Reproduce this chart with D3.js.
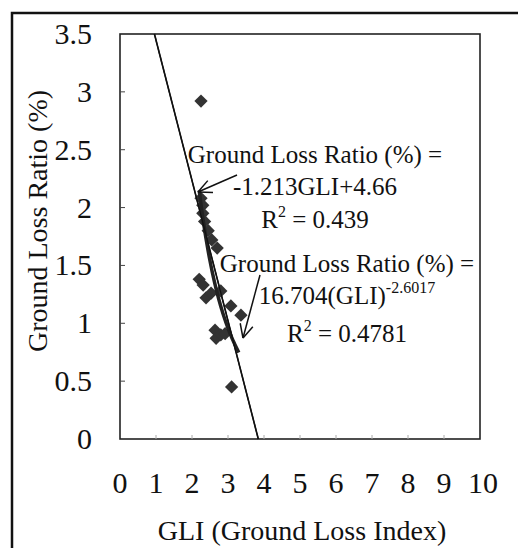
<!DOCTYPE html>
<html><head><meta charset="utf-8">
<script src="https://cdn.jsdelivr.net/npm/d3@7"></script>
<style>body{margin:0;background:#fff}svg{display:block}text{font-family:"Liberation Serif","Times New Roman",serif;fill:#111}</style>
</head><body><svg id="c" width="518" height="548"></svg>
<script>
const gli = [2.25, 2.25, 2.3, 2.3, 2.35, 2.45, 2.55, 2.7, 2.2, 2.31, 2.39, 2.53, 2.8, 3.08, 3.36, 2.64, 2.67, 2.8, 2.92, 3.1];
const ratio = [2.92, 2.08, 2.02, 1.95, 1.88, 1.8, 1.72, 1.65, 1.38, 1.33, 1.22, 1.26, 1.28, 1.15, 1.07, 0.94, 0.87, 0.9, 0.91, 0.45];
const xTicks = [0,1,2,3,4,5,6,7,8,9,10];
const yTicks = [0,0.5,1,1.5,2,2.5,3,3.5];
const linA = -1.213, linB = 4.66;
const powA = 16.704, powB = -2.6017;
const powRange = [2.2, 3.3];

const svg = d3.select("#c");
const x = d3.scaleLinear().domain([0,10]).range([120,480]);
const y = d3.scaleLinear().domain([0,3.5]).range([439,34]);

// outer frame
svg.append("rect").attr("x",12).attr("y",13).attr("width",540).attr("height",560)
  .attr("fill","none").attr("stroke","#111").attr("stroke-width",2.5);

// plot frame
svg.append("rect").attr("x",x(0)).attr("y",y(3.5)).attr("width",x(10)-x(0)).attr("height",y(0)-y(3.5))
  .attr("fill","none").attr("stroke","#222").attr("stroke-width",1.6);

// y ticks (inside)
svg.append("g").selectAll("line").data(yTicks.slice(1,-1)).join("line")
  .attr("x1",x(0)).attr("x2",x(0)+5).attr("y1",d=>y(d)).attr("y2",d=>y(d))
  .attr("stroke","#444").attr("stroke-width",1);
svg.append("g").selectAll("line").data(xTicks.slice(1,-1)).join("line")
  .attr("x1",d=>x(d)).attr("x2",d=>x(d)).attr("y1",y(0)).attr("y2",y(0)-4)
  .attr("stroke","#aaa").attr("stroke-width",1);

// tick labels
svg.append("g").selectAll("text").data(yTicks).join("text")
  .attr("x",92).attr("y",d=>y(d)+10).attr("text-anchor","end")
  .attr("font-size",30).text(d=>d);
svg.append("g").selectAll("text").data(xTicks).join("text")
  .attr("x",d=>x(d)+(d===10?3:0)).attr("y",493).attr("text-anchor","middle")
  .attr("font-size",30).text(d=>d);

// axis titles
svg.append("text").attr("x",302).attr("y",540).attr("text-anchor","middle")
  .attr("font-size",28).text("GLI (Ground Loss Index)");
svg.append("text").attr("transform","translate(47,221) rotate(-90)").attr("text-anchor","middle")
  .attr("font-size",28).text("Ground Loss Ratio (%)");

// linear fit line
const lx0 = (3.5 - linB)/linA, lx1 = (0 - linB)/linA;
svg.append("line").attr("x1",x(lx0)).attr("y1",y(3.5)).attr("x2",x(lx1)).attr("y2",y(0))
  .attr("stroke","#111").attr("stroke-width",1.6);

// points
const sym = d3.symbol().type(d3.symbolSquare).size(88);
svg.append("g").selectAll("path").data(gli.map((g,i)=>[g,ratio[i]])).join("path")
  .attr("d",sym).attr("transform",d=>`translate(${x(d[0])},${y(d[1])}) rotate(45)`)
  .attr("fill","#333");

// power curve
const pts = d3.range(0,41).map(i=>{const g=powRange[0]+(powRange[1]-powRange[0])*i/40;return [g,powA*Math.pow(g,powB)];});
svg.append("path").attr("d",d3.line().x(d=>x(d[0])).y(d=>y(d[1]))(pts))
  .attr("fill","none").attr("stroke","#222").attr("stroke-width",3.5);
// re-draw linear line on top thinly
svg.append("line").attr("x1",x(lx0)).attr("y1",y(3.5)).attr("x2",x(lx1)).attr("y2",y(0))
  .attr("stroke","#111").attr("stroke-width",1.2);

// annotations
function ann(cx, lines){
  lines.forEach(l=>{
    const t = svg.append("text").attr("x",cx).attr("y",l.y).attr("text-anchor","middle").attr("font-size",25);
    l.parts.forEach(p=>{
      const ts = t.append("tspan").text(p.t);
      if(p.sup){ts.attr("font-size",16).attr("dy",-11);}
      else if(p.after){ts.attr("dy",11);}
    });
  });
}
ann(315,[
  {y:163,parts:[{t:"Ground Loss Ratio (%) ="}]},
  {y:195,parts:[{t:"-1.213GLI+4.66"}]},
  {y:228,parts:[{t:"R"},{t:"2",sup:true},{t:" = 0.439",after:true}]}
]);
ann(347,[
  {y:272,parts:[{t:"Ground Loss Ratio (%) ="}]},
  {y:304,parts:[{t:"16.704(GLI)"},{t:"-2.6017",sup:true}]},
  {y:342,parts:[{t:"R"},{t:"2",sup:true},{t:" = 0.4781",after:true}]}
]);

// arrows
function arrow(x1,y1,x2,y2){
  svg.append("line").attr("x1",x1).attr("y1",y1).attr("x2",x2).attr("y2",y2)
    .attr("stroke","#111").attr("stroke-width",1.5);
  const a = Math.atan2(y2-y1,x2-x1), L=15, w=0.45;
  [a+Math.PI-w, a+Math.PI+w].forEach(b=>{
    svg.append("line").attr("x1",x2).attr("y1",y2)
      .attr("x2",x2+L*Math.cos(b)).attr("y2",y2+L*Math.sin(b))
      .attr("stroke","#111").attr("stroke-width",1.5);
  });
}
arrow(237,175,198,192);
arrow(260,275,243,338);
</script></body></html>
